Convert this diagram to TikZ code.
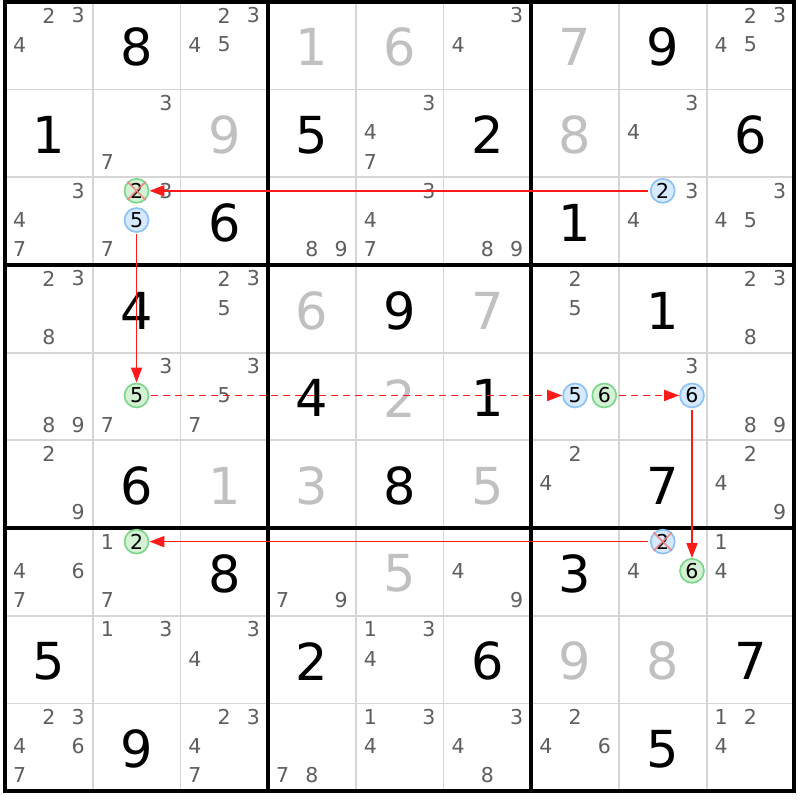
\documentclass[tikz,border=0pt]{standalone}
\usepackage{fontspec}
\setmainfont{DejaVu Sans}
\usetikzlibrary{arrows.meta}
\definecolor{candgray}{HTML}{5E5E5E}
\definecolor{solvedgray}{HTML}{C0C0C0}
\definecolor{thingray}{HTML}{D6D6D6}
\definecolor{bfill}{HTML}{D5E9FF}
\definecolor{bline}{HTML}{8EC2F4}
\definecolor{gfill}{HTML}{D3F1D3}
\definecolor{gline}{HTML}{7ED68C}
\definecolor{xpink}{HTML}{F07F7F}
\definecolor{arrred}{HTML}{FF1A1A}
\tikzset{
  thinline/.style={draw=thingray, line width=1.8pt},
  thickline/.style={draw=black, line width=3.8pt},
  given/.style={font=\fontsize{51}{51}\selectfont, text=black, inner sep=0pt},
  solved/.style={given, text=solvedgray},
  cand/.style={font=\fontsize{20.5}{20.5}\selectfont, text=candgray, inner sep=0pt},
  gcirc/.style={cand, text=black, circle, minimum size=24pt, fill=gfill, draw=gline, line width=1.7pt},
  bcirc/.style={cand, text=black, circle, minimum size=24pt, fill=bfill, draw=bline, line width=1.7pt},
  xmark/.style={draw=xpink, line width=1.7pt, opacity=0.85},
  arr/.style={draw=arrred, line width=1.7pt, -{Triangle[length=15pt,width=11pt]}, shorten <=1.5pt},
  darr/.style={arr, dash pattern=on 7pt off 5pt},
}
\begin{document}
\begin{tikzpicture}[x=1pt,y=-1pt]
\useasboundingbox (0,0) rectangle (800,800);
\def\s{87.7}\def\ox{5}\def\oy{1.8}
\newcommand\given[3]{\node[given] (g#1#2) at ({\ox+(#2+0.5)*\s},{\oy+(#1+0.5)*\s+1.7}) {#3};}
\newcommand\solved[3]{\node[solved] (g#1#2) at ({\ox+(#2+0.5)*\s},{\oy+(#1+0.5)*\s+1.7}) {#3};}
\newcommand\cand[4]{%
  \pgfmathtruncatemacro\cc{mod(#3-1,3)}%
  \pgfmathtruncatemacro\rr{div(#3-1,3)}%
  \node[#4] (n#1#2#3) at ({\ox+#2*\s+(2*\cc+1)*\s/6},{\oy+#1*\s+(2*\rr+1)*\s/6-1}) {#3};}
\newcommand\cands[3]{\foreach \d in {#3} {\cand{#1}{#2}{\d}{cand}}}
% grid
\foreach \i in {1,2,4,5,7,8} {
  \draw[thinline] ({\ox+\i*\s},\oy) -- ({\ox+\i*\s},{\oy+9*\s});
  \draw[thinline] (\ox,{\oy+\i*\s}) -- ({\ox+9*\s},{\oy+\i*\s});
}
\foreach \i in {0,3,6,9} {
  \draw[thickline] ({\ox+\i*\s},{\oy-1.9}) -- ({\ox+\i*\s},{\oy+9*\s+1.9});
  \draw[thickline] ({\ox-1.9},{\oy+\i*\s}) -- ({\ox+9*\s+1.9},{\oy+\i*\s});
}
% row 0
\cands{0}{0}{2,3,4} \given{0}{1}{8} \cands{0}{2}{2,3,4,5} \solved{0}{3}{1} \solved{0}{4}{6}
\cands{0}{5}{3,4} \solved{0}{6}{7} \given{0}{7}{9} \cands{0}{8}{2,3,4,5}
% row 1
\given{1}{0}{1} \cands{1}{1}{3,7} \solved{1}{2}{9} \given{1}{3}{5} \cands{1}{4}{3,4,7}
\given{1}{5}{2} \solved{1}{6}{8} \cands{1}{7}{3,4} \given{1}{8}{6}
% row 2
\cands{2}{0}{3,4,7} \cands{2}{1}{3,7} \cand{2}{1}{2}{gcirc} \cand{2}{1}{5}{bcirc}
\given{2}{2}{6} \cands{2}{3}{8,9} \cands{2}{4}{3,4,7} \cands{2}{5}{8,9} \given{2}{6}{1}
\cands{2}{7}{3,4} \cand{2}{7}{2}{bcirc} \cands{2}{8}{3,4,5}
% row 3
\cands{3}{0}{2,3,8} \given{3}{1}{4} \cands{3}{2}{2,3,5} \solved{3}{3}{6} \given{3}{4}{9}
\solved{3}{5}{7} \cands{3}{6}{2,5} \given{3}{7}{1} \cands{3}{8}{2,3,8}
% row 4
\cands{4}{0}{8,9} \cands{4}{1}{3,7} \cand{4}{1}{5}{gcirc} \cands{4}{2}{3,5,7} \given{4}{3}{4}
\solved{4}{4}{2} \given{4}{5}{1} \cand{4}{6}{5}{bcirc} \cand{4}{6}{6}{gcirc}
\cands{4}{7}{3} \cand{4}{7}{6}{bcirc} \cands{4}{8}{8,9}
% row 5
\cands{5}{0}{2,9} \given{5}{1}{6} \solved{5}{2}{1} \solved{5}{3}{3} \given{5}{4}{8}
\solved{5}{5}{5} \cands{5}{6}{2,4} \given{5}{7}{7} \cands{5}{8}{2,4,9}
% row 6
\cands{6}{0}{4,6,7} \cands{6}{1}{1,7} \cand{6}{1}{2}{gcirc} \given{6}{2}{8} \cands{6}{3}{7,9}
\solved{6}{4}{5} \cands{6}{5}{4,9} \given{6}{6}{3} \cands{6}{7}{4} \cand{6}{7}{2}{bcirc}
\cand{6}{7}{6}{gcirc} \cands{6}{8}{1,4}
% row 7
\given{7}{0}{5} \cands{7}{1}{1,3} \cands{7}{2}{3,4} \given{7}{3}{2} \cands{7}{4}{1,3,4}
\given{7}{5}{6} \solved{7}{6}{9} \solved{7}{7}{8} \given{7}{8}{7}
% row 8
\cands{8}{0}{2,3,4,6,7} \given{8}{1}{9} \cands{8}{2}{2,3,4,7} \cands{8}{3}{7,8}
\cands{8}{4}{1,3,4} \cands{8}{5}{3,4,8} \cands{8}{6}{2,4,6} \given{8}{7}{5} \cands{8}{8}{1,2,4}
% eliminations
\draw[xmark] (n212.45) -- (n212.225) (n212.135) -- (n212.315);
\draw[xmark] (n672.45) -- (n672.225) (n672.135) -- (n672.315);
% chain
\draw[arr] (n272) -- (n212);
\draw[arr] (n215) -- (n415);
\draw[darr] (n415) -- (n465);
\draw[darr] (n466) -- (n476);
\draw[arr] (n476) -- (n676);
\draw[arr] (n672) -- (n612);
\end{tikzpicture}
\end{document}
